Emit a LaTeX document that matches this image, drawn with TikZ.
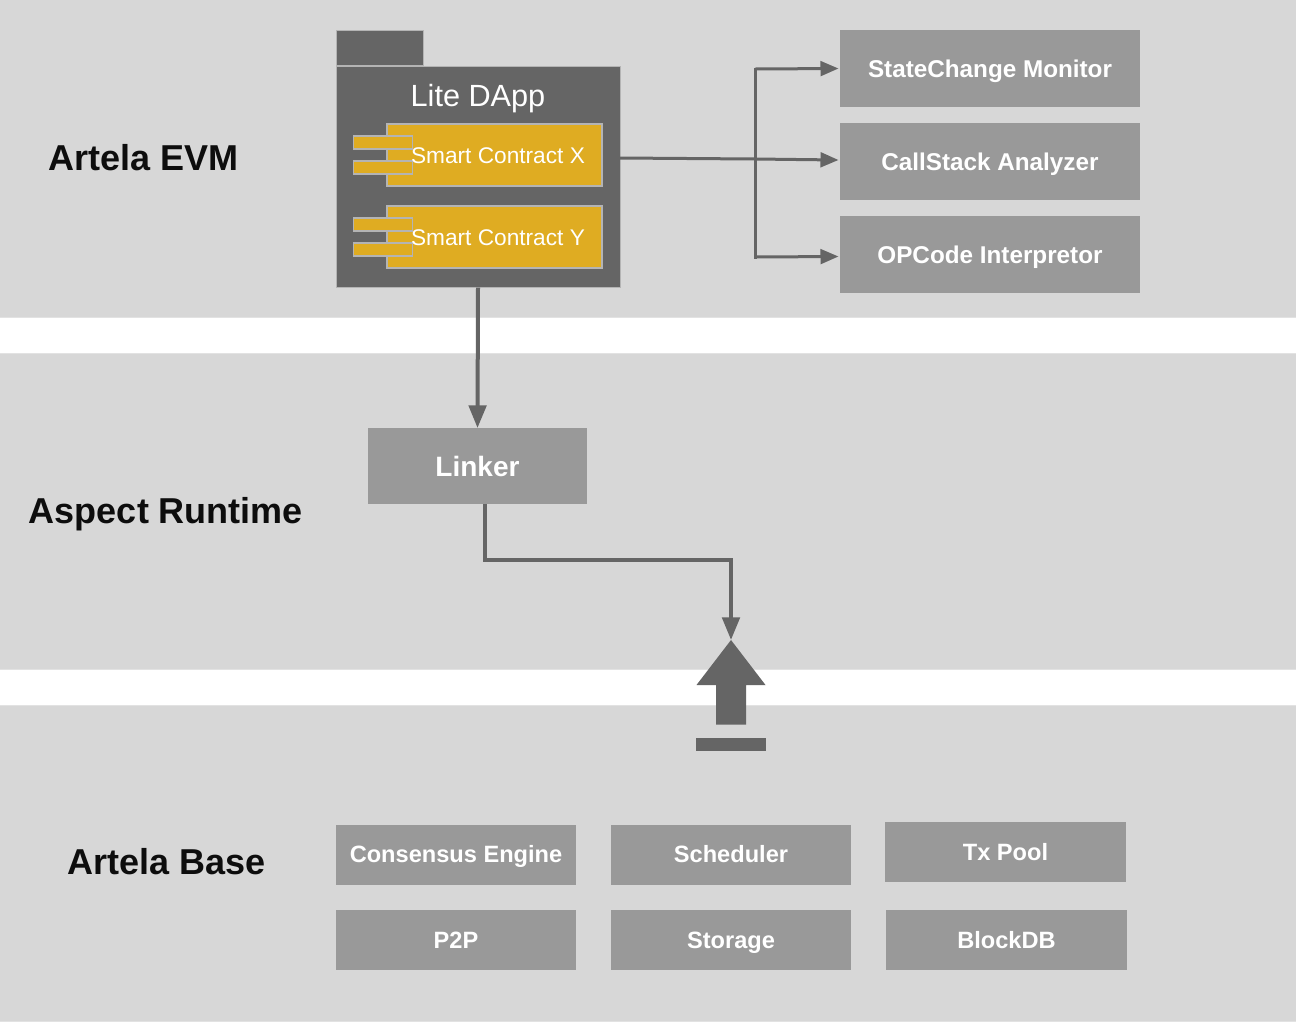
\documentclass[tikz,border=0pt]{standalone}
\usepackage{fontspec}
\setmainfont{Liberation Sans}
\usetikzlibrary{arrows.meta,calc}
\definecolor{bandc}{HTML}{D7D7D7}
\definecolor{bandl}{HTML}{E2E2E2}
\definecolor{greyc}{HTML}{999999}
\definecolor{darkc}{HTML}{656565}
\definecolor{goldc}{HTML}{DFAC22}
\definecolor{edgec}{HTML}{B4B4B4}
\tikzset{
  sz/.style 2 args={minimum width=#1*0.75pt,minimum height=#2*0.75pt},
  flat/.style={text height=#1,text depth=0pt},
  band/.style={draw=bandl,fill=bandc,line width=0.75pt,inner sep=0pt,outer sep=0pt},
  greybox/.style={flat=13.1pt,fill=greyc,text=white,inner sep=0pt,outer sep=0pt,font=\bfseries\fontsize{18.2}{22}\selectfont},
  basebox/.style={greybox,flat=12.7pt,font=\bfseries\fontsize{17.7}{22}\selectfont},
  linkbox/.style={greybox,flat=15.1pt,font=\bfseries\fontsize{21}{24}\selectfont},
  pkgbox/.style={draw=edgec,fill=darkc,line width=0.75pt,inner sep=0pt,outer sep=0pt},
  compbox/.style={draw=edgec,fill=goldc,line width=0.9pt,inner sep=0pt,outer sep=0pt},
  layer/.style={flat=19.4pt,text=black!95,font=\bfseries\fontsize{27}{30}\selectfont,inner sep=0pt},
  pkgtext/.style={flat=16.6pt,text=white,font=\fontsize{23}{26}\selectfont,inner sep=0pt},
  comptext/.style={flat=12.2pt,text=white,font=\fontsize{17}{20}\selectfont,inner sep=0pt},
  conn/.style={draw=darkc,line width=2.25pt,-{Triangle[length=13.5pt,width=11pt]}},
  connplain/.style={draw=darkc,line width=2.25pt},
  connbig/.style={draw=darkc,line width=3pt,-{Triangle[length=17pt,width=13pt]}},
}
\begin{document}
\begin{tikzpicture}[x=0.75pt,y=-0.75pt]
\useasboundingbox (0,0) rectangle (1296,1022);
\fill[white] (0,0) rectangle (1296,1022);
% bands
\node[band,sz={1300}{318}] (b1) at (648,158) {};
\node[band,sz={1300}{316}] (b2) at (648,511) {};
\node[band,sz={1300}{316}] (b3) at (648,863) {};
% layer labels
\node[layer] (l1) at (143.5,158) {Artela EVM};
\node[layer] (l2) at (166,511) {Aspect Runtime};
\node[layer] (l3) at (166.5,862) {Artela Base};
% package
\node[pkgbox,sz={87}{35}] (tab) at (379.5,48) {};
\node[pkgbox,sz={284}{221}] (pkg) at (478,177) {};
\node[pkgtext] (pkgt) at (478,95) {Lite DApp};
% components
\node[compbox,sz={215}{62}] (cx) at (494.5,155) {};
\node[compbox,sz={59}{13}] (cx1) at (383,142.5) {};
\node[compbox,sz={59}{13}] (cx2) at (383,167.5) {};
\node[comptext] (cxt) at (498,155) {Smart Contract X};
\node[compbox,sz={215}{62}] (cy) at (494.5,237) {};
\node[compbox,sz={59}{13}] (cy1) at (383,224.5) {};
\node[compbox,sz={59}{13}] (cy2) at (383,249.5) {};
\node[comptext] (cyt) at (498,237) {Smart Contract Y};
% right boxes
\node[greybox,sz={300}{77}] (mon) at (990,68.5) {StateChange Monitor};
\node[greybox,sz={300}{77}] (call) at (990,161.5) {CallStack Analyzer};
\node[greybox,sz={300}{77}] (op) at (990,254.5) {OPCode Interpretor};
% linker
\node[linkbox,sz={219}{76}] (link) at (477.5,466) {Linker};
% base boxes
\node[basebox,sz={240}{60}] (cons) at (456,854.5) {Consensus Engine};
\node[basebox,sz={240}{60}] (sched) at (731,854.5) {Scheduler};
\node[basebox,sz={241}{60}] (pool) at (1005.5,852) {Tx Pool};
\node[basebox,sz={240}{60}] (p2p) at (456,940) {P2P};
\node[basebox,sz={240}{60}] (stor) at (731,940) {Storage};
\node[basebox,sz={241}{60}] (bdb) at (1006.5,940) {BlockDB};
% block arrow and bar
\coordinate (tip) at (731,640);
\fill[darkc] (tip) -- (765.5,685) -- (746,685) -- (746,724.5) -- (716,724.5) -- (716,685) -- (696.5,685) -- cycle;
\node[fill=darkc,inner sep=0pt,outer sep=0pt,sz={70}{13}] (bar) at (731,744) {};
% connectors
\coordinate (jt) at (755,69);
\coordinate (jb) at (755,257);
\draw[connplain] ([shift={(0,-19)}]pkg.east) -- (755,159);
\draw[conn] (755,159) -- ([shift={(-1.5,-1.5)}]call.west);
\draw[connplain,line cap=rect] (jt) -- (jb);
\draw[conn] (jt) -- ([shift={(-1.5,0)}]mon.west);
\draw[conn] (jb) -- ([shift={(-1.5,2)}]op.west);
\draw[connbig] (pkg.south) -- (link.north);
\draw[connbig] ([shift={(7.5,0)}]link.south) |- (731,560) -- (tip);
\end{tikzpicture}
\end{document}
